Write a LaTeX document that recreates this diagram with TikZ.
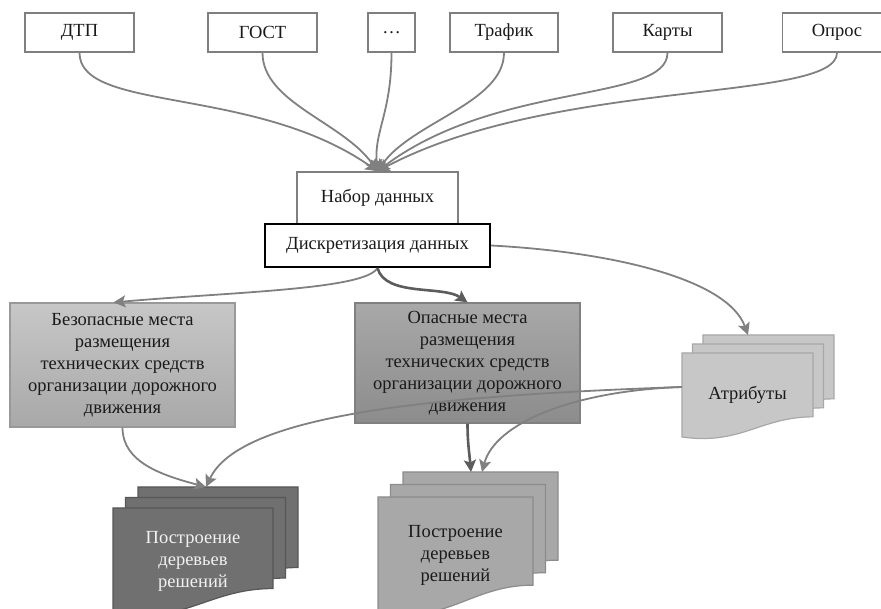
\documentclass[tikz,border=0pt]{standalone}
\usepackage{fontspec}
\setmainfont{Liberation Serif}
\usetikzlibrary{arrows.meta}

\definecolor{linegray}{HTML}{808080}
\definecolor{darkline}{HTML}{5C5C5C}
\definecolor{boxedge}{HTML}{7F7F7F}
\definecolor{inktext}{HTML}{1A1A1A}

\tikzset{
  srcbox/.style={draw=boxedge, fill=white, line width=1.5pt, minimum height=39,
    inner sep=0pt, text=inktext, font=\fontsize{18.5}{22}\selectfont},
  placebox/.style={line width=1.2pt, minimum width=225, inner sep=0pt, align=center,
    text=inktext, font=\fontsize{18.5}{22}\selectfont},
  doctext/.style={inner sep=0pt, align=center, font=\fontsize{18.5}{22}\selectfont},
  atrpage/.style={fill=black!22, draw=black!34, line width=1.2pt},
  treeApage/.style={fill=black!56, draw=black!66, line width=1.2pt},
  treeBpage/.style={fill=black!34, draw=black!45, line width=1.2pt},
}

% one page with a wavy lower edge: top-left x, y, width, height, style
\newcommand{\docpage}[5]{%
  \filldraw[#5] ({#1},{#2}) -- ({#1+#3},{#2}) -- ({#1+#3},{#2-0.76*#4})
    .. controls ({#1+0.6*#3},{#2-0.76*#4}) and ({#1+0.45*#3},{#2-1.1*#4}) .. ({#1},{#2-#4}) -- cycle;}

\begin{document}
\begin{tikzpicture}[x=1pt,y=1pt,
    link/.style={draw=linegray, line width=1.8pt, -{Stealth[length=12pt,width=12pt,inset=2.5pt]}},
    mainlink/.style={link, draw=darkline, line width=2.6pt}]
  \useasboundingbox (0,0) rectangle (881,608);
  \clip (0,0) rectangle (881,608);

  % sources
  \node[srcbox, minimum width=109] (dtp) at (79.5,575.5) {ДТП};
  \node[srcbox, minimum width=109] (gost) at (262.5,575.5) {ГОСТ};
  \node[srcbox, minimum width=47] (dots) at (391.5,575.5) {\dots};
  \node[srcbox, minimum width=108] (traf) at (504,575.5) {Трафик};
  \node[srcbox, minimum width=109] (karty) at (667.5,575.5) {Карты};
  \node[srcbox, minimum width=109] (opros) at (837,575.5) {Опрос};

  % data
  \node[srcbox, minimum width=161, minimum height=52] (nabor) at (377.5,410) {Набор данных};
  \node[srcbox, draw=black, line width=2pt, minimum width=225, minimum height=43] (diskr) at (377.5,362.5) {Дискретизация данных};

  % places
  \node[placebox, draw=black!40, top color=black!22, bottom color=black!34, minimum height=124] (bez) at (122.5,243)
    {Безопасные места\\размещения\\технических средств\\организации дорожного\\движения};
  \node[placebox, draw=black!50, top color=black!34, bottom color=black!45, minimum height=120] (opas) at (467.5,245)
    {Опасные места\\размещения\\технических средств\\организации дорожного\\движения};

  % document stacks
  \foreach \k in {2,1,0} {\docpage{682+10.5*\k}{255+9*\k}{131}{84}{atrpage}}
  \foreach \k in {2,1,0} {\docpage{113+12.5*\k}{100+10.5*\k}{160}{106}{treeApage}}
  \foreach \k in {2,1,0} {\docpage{378+12.5*\k}{111+12.5*\k}{155}{116}{treeBpage}}
  \node[doctext, text=inktext, minimum width=131, minimum height=84] (atr) at (747.5,213) {Атрибуты};
  \node[doctext, text=black!5, minimum width=160, minimum height=106] (treeA) at (193,47) {Построение\\деревьев\\решений};
  \node[doctext, text=inktext, minimum width=155, minimum height=116] (treeB) at (455.5,53) {Построение\\деревьев\\решений};
  \coordinate (atrtop) at (748,273);
  \coordinate (treeAtop) at (206,121);
  \coordinate (treeBin) at (471,136);
  \coordinate (treeBside) at (482,136);

  % connectors
  \foreach \src/\ang/\od/\id in {dtp/145/60/150, gost/125/50/60, dots/95/60/40,
      traf/55/50/60, karty/37/50/150, opros/28/50/200}
    \draw[link] (\src.south) to[out=-90, in=\ang, out distance=\od, in distance=\id] (nabor.north);
  \draw[link] (diskr.south) to[out=-120, in=5, out distance=25, in distance=120] ([xshift=-9]bez.north);
  \draw[mainlink] (diskr.south) to[out=-75, in=145, out distance=30, in distance=30] (opas.north);
  \draw[link] (diskr.east) to[out=-3, in=110, out distance=120, in distance=60] (atrtop);
  \draw[link] (bez.south) to[out=-90, in=165, out distance=35, in distance=45] (treeAtop);
  \draw[link] ([yshift=8]atr.west) to[out=182, in=65, out distance=250, in distance=80] (treeAtop);
  \draw[link] ([yshift=8]atr.west) to[out=182, in=75, out distance=110, in distance=50] (treeBside);
  \draw[mainlink] (opas.south) to[out=-90, in=95] (treeBin);
\end{tikzpicture}
\end{document}
